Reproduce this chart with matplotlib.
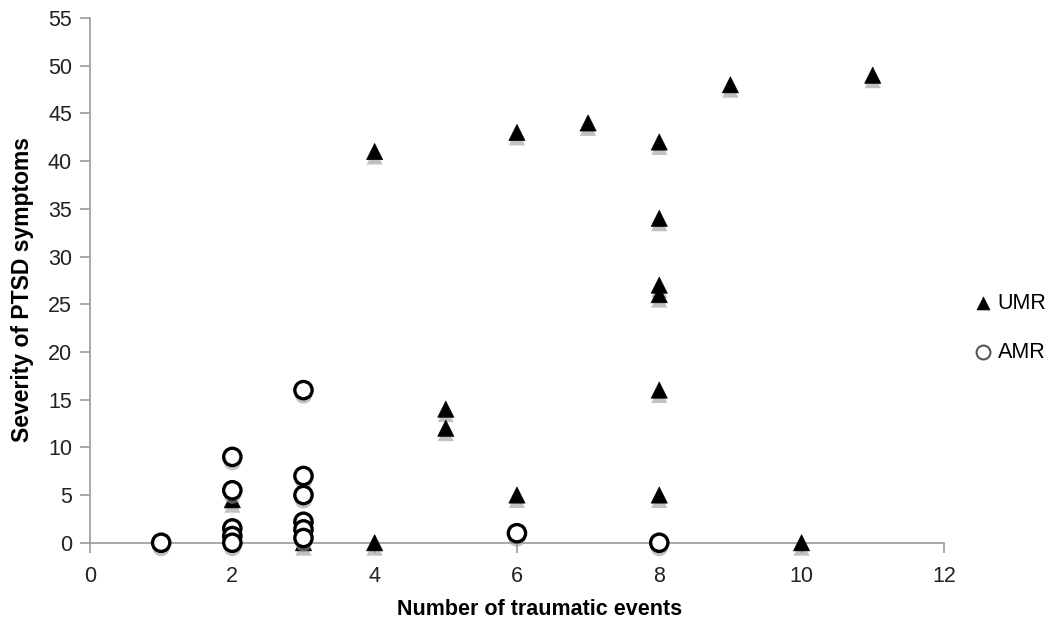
import matplotlib.pyplot as plt
import matplotlib.patheffects as pe

plt.rcParams['font.family'] = ['Liberation Sans', 'DejaVu Sans']

# UMR group (filled triangles)
umr_x = [2, 3, 4, 4, 5, 5, 6, 6, 7, 8, 8, 8, 8, 8, 8, 9, 10, 11]
umr_y = [4.5, 0, 0, 41, 14, 12, 43, 5, 44, 42, 34, 27, 26, 16, 5, 48, 0, 49]
# AMR group (open circles)
amr_x = [1, 2, 2, 2, 2, 2, 3, 3, 3, 3, 3, 3, 6, 8]
amr_y = [0, 9, 5.5, 1.5, 0.7, 0, 16, 7, 5, 2.2, 1.4, 0.5, 1, 0]

fig = plt.figure(figsize=(10.64, 6.21), dpi=100)
ax = fig.add_axes([0.0846, 0.126, 0.8025, 0.845])

shadow = [pe.SimplePatchShadow(offset=(0, -3.5), shadow_rgbFace='#999999', alpha=0.6),
          pe.Normal()]

ax.scatter(umr_x, umr_y, marker='^', s=135, c='black', edgecolors='black',
           linewidths=0.5, label='UMR', path_effects=shadow, zorder=3, clip_on=False)
ax.scatter(amr_x, amr_y, marker='o', s=155, facecolors='white',
           edgecolors='black', linewidths=2.4, label='AMR',
           path_effects=shadow, zorder=4, clip_on=False)

ax.set_xlim(0, 12)
ax.set_ylim(0, 55)
ax.set_xticks(range(0, 13, 2))
ax.set_yticks(range(0, 56, 5))
ax.tick_params(labelsize=15.5, labelcolor='#222222', color='#999999', length=7, width=1.2)
ax.tick_params(axis='x', pad=10)
ax.tick_params(axis='y', pad=6)
for s in ['top', 'right']:
    ax.spines[s].set_visible(False)
for s in ['left', 'bottom']:
    ax.spines[s].set_color('#999999')
    ax.spines[s].set_linewidth(1.2)
ax.set_xlabel('Number of traumatic events', fontsize=15.5, fontweight='bold')
ax.set_ylabel('Severity of PTSD symptoms', fontsize=16.5, fontweight='bold')
ax.xaxis.set_label_coords(0.527, -0.107)
ax.yaxis.set_label_coords(-0.066, 0.482)

leg = ax.legend(loc='center left', bbox_to_anchor=(1.01, 0.41), frameon=False,
                fontsize=15.5, handletextpad=0.2, labelspacing=1.3, markerscale=0.8,
                handlelength=1.0)
for h in leg.legend_handles:
    h.set_path_effects([])
leg.legend_handles[1].set_edgecolor('#555555')
leg.legend_handles[1].set_linewidth(1.5)

fig.savefig('out.png', dpi=100)
